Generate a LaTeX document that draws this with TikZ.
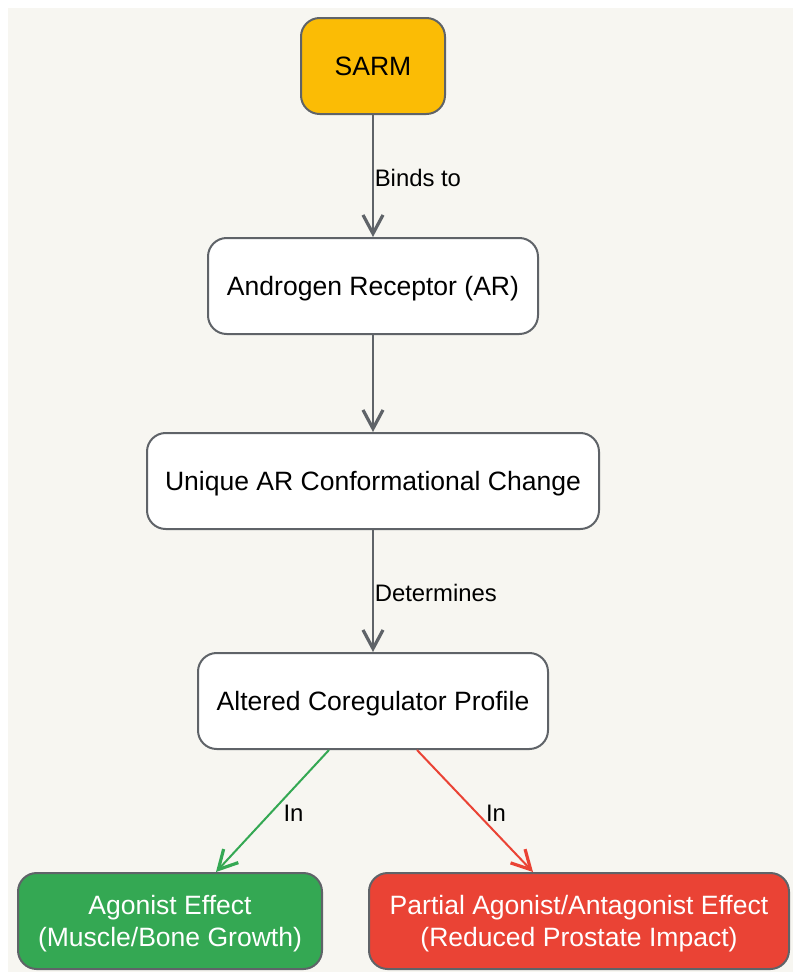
\documentclass[tikz,border=0pt]{standalone}
\usepackage{fontspec}
\setmainfont{Liberation Sans}
\usetikzlibrary{arrows.meta}
\definecolor{bgbeige}{HTML}{F7F6F1}
\definecolor{sarmyellow}{HTML}{FBBC05}
\definecolor{edgegray}{HTML}{5F6368}
\definecolor{agogreen}{HTML}{34A853}
\definecolor{antired}{HTML}{EA4335}
\tikzset{every picture/.style={line width=1.5pt}}
\tikzset{
    box/.style={draw=edgegray, line width=1.5pt, rounded corners=14pt,
        fill=white, minimum height=72pt, inner sep=0pt, align=center,
        text height=18pt, text depth=4.2pt,
        font=\fontsize{19.9}{24}\selectfont},
    twoline/.style={text height=42pt},
    flow/.style={draw=edgegray, line width=1.7pt,
        -{Straight Barb[length=14pt,width=15pt,line width=2.4pt]}},
    lbl/.style={font=\fontsize{17.9}{21}\selectfont, inner sep=0.5pt, yshift=-1.5pt}}

\begin{document}
\begin{tikzpicture}[x=0.75pt,y=0.75pt,yscale=-1,xscale=1]
            \useasboundingbox (0,0) rectangle (793,972);
            %Background
            \fill[bgbeige] (8,8) rectangle (793,972);

            %Nodes
            \node (sarm) [box, fill=sarmyellow, minimum width=108pt] at (373,66) {SARM};
            \node (ar) [box, minimum width=247.5pt] at (373,286) {Androgen Receptor (AR)};
            \node (conf) [box, minimum width=339pt] at (373,481) {Unique AR Conformational Change};
            \node (coreg) [box, minimum width=262.5pt] at (373,701) {Altered Coregulator Profile};
            %Effects
            \node (agonist) [box, twoline, fill=agogreen, text=white, minimum width=228pt] at (170,921) {Agonist Effect\\(Muscle/Bone Growth)};
            \node (partial) [box, twoline, fill=antired, text=white, minimum width=315pt] at (579,921) {Partial Agonist/Antagonist Effect\\(Reduced Prostate Impact)};

            %Arrows
            \draw [flow] (sarm) -- node [lbl, right] {Binds to} (ar);
            \draw [flow] (ar) -- (conf);
            \draw [flow] (conf) -- node [lbl, right] {Determines} (coreg);
            \draw [flow, draw=agogreen, line width=1.5pt] ([xshift=-33pt]coreg.south) -- node [lbl, right, xshift=7pt] {In} ([xshift=34.5pt]agonist.north);
            \draw [flow, draw=antired, line width=1.5pt] ([xshift=33pt]coreg.south) -- node [lbl, right, xshift=7pt] {In} ([xshift=-34.5pt]partial.north);
        \end{tikzpicture}
\end{document}
